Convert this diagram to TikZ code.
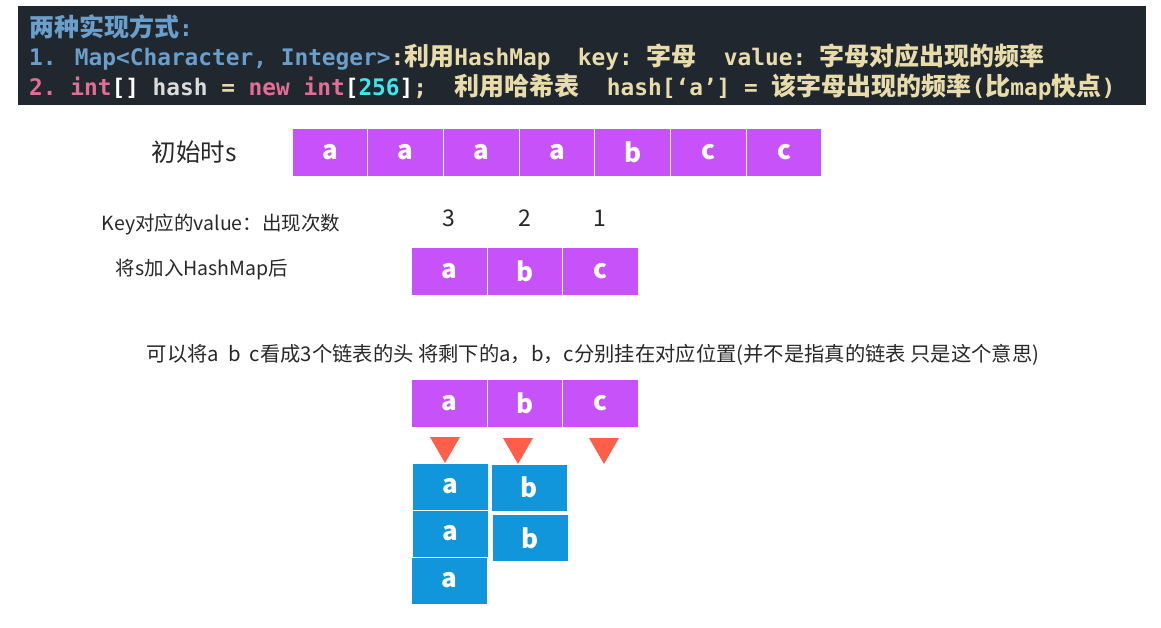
\documentclass[tikz,border=0pt]{standalone}
\usepackage{fontspec}
\setmainfont{Noto Sans CJK SC}
\newfontfamily\monofont{DejaVu Sans Mono}
\newfontfamily\zhfont{Noto Sans CJK SC}
\usetikzlibrary{shapes.geometric}
\definecolor{headbg}{RGB}{33,39,46}
\definecolor{kwblue}{RGB}{106,159,203}
\definecolor{kwpink}{RGB}{226,110,150}
\definecolor{kwcream}{RGB}{232,221,170}
\definecolor{kwgrey}{RGB}{220,220,220}
\definecolor{kwcyan}{RGB}{64,230,238}
\definecolor{cellpurple}{RGB}{200,82,250}
\definecolor{cellblue}{RGB}{18,150,219}
\definecolor{triorange}{RGB}{255,95,74}
\definecolor{textdark}{RGB}{40,40,40}
\newcommand\zh[1]{{\zhfont\fontsize{25}{25}\selectfont #1}}
\newcommand\gap[1]{\hspace*{#1\dimexpr13.7pt\relax}}
\tikzset{
  headline/.style={anchor=base west,inner sep=0pt,font=\monofont\bfseries\fontsize{22.8}{22.8}\selectfont},
  cell/.style={fill=cellpurple,draw=white,line width=1pt,minimum width=75.7pt,minimum height=48pt,inner sep=0pt,text=white,font=\bfseries\fontsize{26}{26}\selectfont},
  link/.style={fill=cellblue,minimum width=75pt,minimum height=46pt,inner sep=0pt,text=white,font=\bfseries\fontsize{26}{26}\selectfont},
  tri/.style={regular polygon,regular polygon sides=3,shape border rotate=180,minimum size=34.6pt,inner sep=0pt,fill=triorange},
  note/.style={text=textdark,inner sep=0pt,font=\fontsize{19.5}{19.5}\selectfont},
}
\begin{document}
\begin{tikzpicture}[x=1pt,y=-1pt]
        \useasboundingbox (0,0) rectangle (1161,627);
        \fill[headbg] (18,6) rectangle (1146,105);
        \node[headline,text=kwblue] (line1) at (29,36) {\zh{两种实现方式}:};
        \node[headline,text=kwcream] (line2) at (29,65) {\textcolor{kwblue}{1. Map<Character, Integer>}:\zh{利用}HashMap\gap{2}key:\gap{1}\zh{字母}\gap{2}value:\gap{1}\zh{字母对应出现的频率}};
        \node[headline,text=kwcream] (line3) at (29,95) {\textcolor{kwpink}{2.\gap{1}int}\textcolor{white}{[]}\gap{1}\textcolor{kwgrey}{hash}\gap{1}=\gap{1}\textcolor{kwpink}{new\gap{1}int}\textcolor{white}{[}\textcolor{kwcyan}{256}\textcolor{white}{]};\gap{2}\zh{利用哈希表}\gap{2}hash[‘a’]\gap{1}=\gap{1}\zh{该字母出现的频率}(\zh{比}map\zh{快点})};
        % initial string
        \node[note,font=\fontsize{24.5}{24.5}\selectfont] (init) at (194,152) {初始时s};
        \node[cell] (s1) at (329.9,152) {a};
        \node[cell] (s2) at (405.6,152) {a};
        \node[cell] (s3) at (481.3,152) {a};
        \node[cell] (s4) at (557.0,152) {a};
        \node[cell] (s5) at (632.7,152) {b};
        \node[cell] (s6) at (708.4,152) {c};
        \node[cell] (s7) at (784.1,152) {c};
        % after the map
        \node[note] (keyval) at (221,225) {Key对应的value：出现次数};
        \node[note] (added) at (202,270) {将s加入HashMap后};
        \node[note,font=\fontsize{23}{23}\selectfont] (n3) at (448.7,218) {3};
        \node[note,font=\fontsize{23}{23}\selectfont] (n2) at (525.3,218) {2};
        \node[note,font=\fontsize{23}{23}\selectfont] (n1) at (599.8,218) {1};
        \node[cell] (ka) at (449.7,271) {a};
        \node[cell] (kb) at (525.3,271) {b};
        \node[cell] (kc) at (600.8,271) {c};
        % heads and lists
        \node[note,font=\fontsize{20.3}{20.3}\selectfont] (idea) at (593,355) {可以将a\ \ b\ \ c看成3个链表的头 将剩下的a，b，c分别挂在对应位置(并不是指真的链表 只是这个意思)};
        \node[cell] (ha) at (449.7,403.5) {a};
        \node[cell] (hb) at (525.3,403.5) {b};
        \node[cell] (hc) at (600.8,403.5) {c};
        \node[tri] (ta) at (445,445.7) {};
        \node[tri] (tb) at (518,446.7) {};
        \node[tri] (tc) at (604,446.7) {};
        \node[link] (la1) at (450.5,486.5) {a};
        \node[link] (la2) at (450.5,533.5) {a};
        \node[link] (la3) at (449.5,580.5) {a};
        \node[link] (lb1) at (529.5,487.5) {b};
        \node[link] (lb2) at (530.5,538) {b};
      \end{tikzpicture}
\end{document}
